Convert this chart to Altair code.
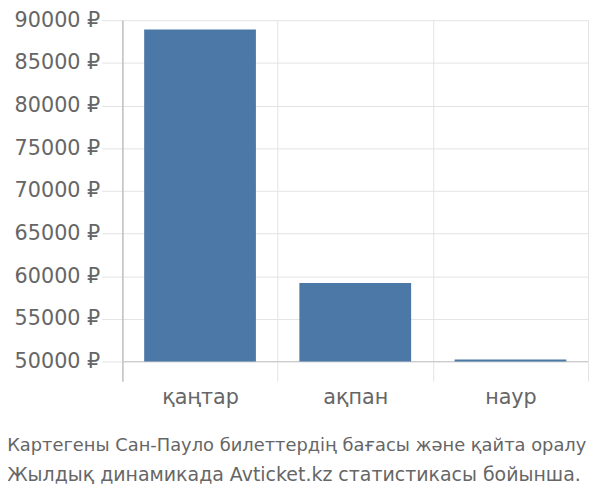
import altair as alt
import pandas as pd

months = ["қаңтар", "ақпан", "наур"]
prices = [88900, 59200, 50230]
baseline = 50000
y_ticks = [50000, 55000, 60000, 65000, 70000, 75000, 80000, 85000, 90000]
y_domain = [47700, 90000]
title_line_1 = "Картегены Сан-Пауло билеттердің бағасы және қайта оралу"
title_line_2 = "Жылдық динамикада Avticket.kz статистикасы бойынша."

df = pd.DataFrame({"month": months, "price": prices})

FONT = "DejaVu Sans"
TXT = "#666666"

x_enc = alt.X(
    "month:N",
    sort=months,
    scale=alt.Scale(paddingInner=0, paddingOuter=0),
    axis=alt.Axis(
        title=None, labelAngle=0, grid=True, tickBand="extent",
        gridColor="#e3e3e3", gridWidth=1, ticks=False, domain=False,
        labelFont=FONT, labelFontSize=21, labelColor=TXT, labelPadding=6,
    ),
)

y_scale = alt.Scale(domain=y_domain, nice=False, zero=False)

bars = alt.Chart(df).mark_bar(
    color="#4c78a8", width=alt.RelativeBandSize(0.72)
).encode(
    x=x_enc,
    y=alt.Y(
        "price:Q",
        scale=y_scale,
        axis=alt.Axis(
            title=None, values=y_ticks,
            labelExpr="format(datum.value, 'd') + ' ₽'",
            grid=True, gridColor="#e3e3e3", gridWidth=1,
            tickSize=21, tickColor="#e3e3e3", tickWidth=1,
            domain=True, domainColor="#aaaaaa", domainWidth=1,
            labelFont=FONT, labelFontSize=21, labelColor=TXT, labelPadding=2,
        ),
    ),
    y2=alt.datum(baseline),
)

base_rule = alt.Chart(df).mark_rule(color="#cccccc", strokeWidth=1).encode(
    y=alt.datum(baseline)
)

chart = alt.layer(base_rule, bars).properties(
    width=472,
    height=366,
    autosize=alt.AutoSizeParams(type="none"),
    padding={"left": 116, "top": 9, "right": 4, "bottom": 109},
    title=alt.TitleParams(
        text=title_line_1,
        subtitle=title_line_2,
        orient="bottom",
        anchor="start",
        frame="bounds",
        font=FONT,
        fontSize=18.1,
        fontWeight="normal",
        color=TXT,
        subtitleFont=FONT,
        subtitleFontSize=19.2,
        subtitleFontWeight="normal",
        subtitleColor=TXT,
        subtitlePadding=11,
        offset=30,
        dx=-7,
    ),
).configure_view(stroke=None)

chart.save("out.html", embed_options={"renderer": "svg", "actions": False})
